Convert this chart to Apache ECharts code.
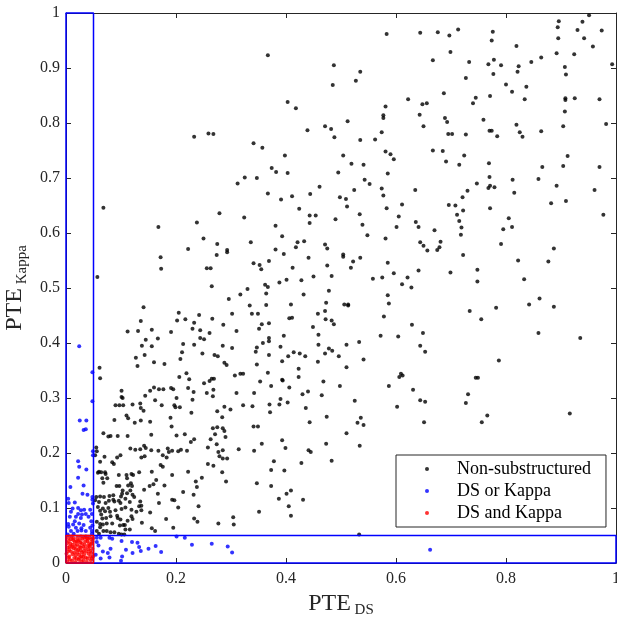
<!DOCTYPE html>
<html>
<head>
<meta charset="utf-8">
<script src="https://cdn.jsdelivr.net/npm/echarts@6/dist/echarts.min.js"></script>
<style>html,body{margin:0;padding:0;background:#fff}#chart{width:617px;height:619px}</style>
</head>
<body>
<div id="chart"></div>
<script>
var xTicks = [0, 0.2, 0.4, 0.6, 0.8, 1];
var yTicks = [0, 0.1, 0.2, 0.3, 0.4, 0.5, 0.6, 0.7, 0.8, 0.9, 1];
var cut = 0.05;
var legendNames = ['Non-substructured', 'DS or Kappa', 'DS and Kappa'];

var nonSubstructured = [
[0.233,0.775],[0.259,0.781],[0.268,0.780],[0.312,0.690],[0.325,0.701],
[0.367,0.923],[0.583,0.962],[0.644,0.964],[0.487,0.905],[0.535,0.893],[0.527,0.877],[0.485,0.869],[0.403,0.838],[0.418,0.827],[0.622,0.843],[0.581,0.830],[0.648,0.834],[0.656,0.836],[0.577,0.814],[0.577,0.809],[0.643,0.815],[0.512,0.803],[0.439,0.787],[0.471,0.794],[0.482,0.789],[0.650,0.794],[0.488,0.774],[0.535,0.769],[0.562,0.770],[0.574,0.783],[0.341,0.763],[0.357,0.755],[0.398,0.741],[0.504,0.741],[0.581,0.748],[0.590,0.743],[0.596,0.734],[0.519,0.726],[0.541,0.724],[0.374,0.718],[0.382,0.711],[0.403,0.709],[0.495,0.710],[0.585,0.708],[0.347,0.700],[0.543,0.697],[0.552,0.689],[0.461,0.684],[0.524,0.678],[0.574,0.681],[0.635,0.678],[0.367,0.672],[0.444,0.671],
[0.951,0.996],[0.896,0.985],[0.939,0.984],[0.894,0.974],[0.930,0.969],[0.974,0.968],[0.713,0.970],[0.676,0.965],[0.697,0.959],[0.776,0.966],[0.774,0.950],[0.895,0.954],[0.942,0.954],[0.819,0.940],[0.958,0.939],[0.699,0.929],[0.892,0.927],[0.924,0.925],[0.864,0.919],[0.846,0.911],[0.667,0.914],[0.733,0.911],[0.778,0.915],[0.768,0.907],[0.791,0.905],[0.823,0.903],[0.907,0.902],[0.993,0.907],[0.821,0.893],[0.777,0.889],[0.909,0.888],[0.727,0.882],[0.800,0.870],[0.837,0.866],[0.811,0.857],[0.687,0.854],[0.745,0.846],[0.771,0.849],[0.740,0.836],[0.834,0.843],[0.908,0.845],[0.908,0.842],[0.925,0.845],[0.970,0.843],[0.907,0.821],[0.689,0.809],[0.693,0.802],[0.759,0.806],[0.819,0.797],[0.982,0.798],[0.904,0.794],[0.695,0.780],[0.702,0.780],[0.727,0.779],[0.770,0.786],[0.774,0.786],[0.784,0.776],[0.825,0.783],[0.830,0.775],[0.864,0.785],[0.667,0.750],[0.685,0.749],[0.724,0.741],[0.691,0.730],[0.715,0.724],[0.769,0.727],[0.912,0.740],[0.866,0.720],[0.904,0.722],[0.970,0.720],[0.770,0.702],[0.812,0.697],[0.859,0.698],[0.747,0.690],[0.771,0.686],[0.768,0.682],[0.779,0.683],[0.730,0.677],[0.815,0.673],[0.892,0.686],[0.961,0.678],
[0.068,0.646],[0.168,0.611],[0.238,0.619],[0.279,0.636],[0.324,0.628],[0.250,0.590],[0.222,0.571],[0.275,0.580],[0.293,0.569],[0.293,0.565],[0.274,0.560],[0.172,0.556],[0.173,0.535],[0.256,0.536],[0.263,0.536],[0.057,0.520],[0.265,0.503],[0.330,0.498],[0.317,0.488],[0.296,0.480],[0.334,0.468],[0.141,0.465],[0.205,0.455],[0.242,0.451],[0.302,0.453],[0.136,0.440],[0.202,0.441],[0.217,0.443],[0.233,0.437],[0.266,0.444],[0.286,0.433],[0.112,0.421],[0.131,0.422],[0.156,0.424],[0.191,0.420],[0.230,0.426],[0.244,0.423],[0.261,0.418],[0.310,0.422],[0.145,0.406],[0.167,0.408],[0.244,0.409],[0.251,0.407],[0.138,0.395],[0.156,0.394],[0.213,0.398],[0.233,0.397],[0.285,0.395],[0.302,0.391],[0.211,0.383],[0.248,0.381],[0.270,0.378],[0.276,0.376],[0.127,0.373],[0.143,0.378],[0.208,0.371],[0.130,0.358],[0.160,0.365],[0.179,0.362],[0.288,0.364],[0.292,0.360],[0.061,0.355],[0.062,0.336],[0.206,0.338],[0.219,0.345],[0.224,0.334],[0.265,0.335],[0.269,0.335],[0.307,0.341],[0.317,0.344],[0.322,0.344],
[0.391,0.661],[0.411,0.667],[0.498,0.665],[0.509,0.662],[0.577,0.668],[0.511,0.648],[0.611,0.652],[0.424,0.644],[0.443,0.632],[0.454,0.632],[0.443,0.618],[0.490,0.625],[0.534,0.634],[0.583,0.645],[0.605,0.630],[0.539,0.615],[0.601,0.611],[0.636,0.620],[0.641,0.611],[0.381,0.613],[0.393,0.594],[0.548,0.596],[0.581,0.590],[0.336,0.583],[0.421,0.583],[0.433,0.585],[0.471,0.579],[0.475,0.572],[0.418,0.574],[0.381,0.570],[0.396,0.562],[0.644,0.583],[0.650,0.577],[0.657,0.568],[0.504,0.561],[0.504,0.557],[0.441,0.555],[0.535,0.555],[0.522,0.548],[0.585,0.546],[0.341,0.545],[0.352,0.542],[0.355,0.534],[0.369,0.549],[0.412,0.537],[0.475,0.541],[0.518,0.537],[0.641,0.532],[0.596,0.527],[0.450,0.521],[0.483,0.522],[0.558,0.517],[0.575,0.519],[0.621,0.519],[0.401,0.515],[0.428,0.514],[0.388,0.510],[0.611,0.507],[0.628,0.501],[0.362,0.506],[0.367,0.502],[0.364,0.490],[0.478,0.495],[0.432,0.488],[0.585,0.487],[0.587,0.472],[0.506,0.470],[0.513,0.470],[0.513,0.468],[0.473,0.473],[0.409,0.470],[0.364,0.469],[0.338,0.453],[0.349,0.453],[0.471,0.458],[0.458,0.453],[0.578,0.448],[0.406,0.445],[0.411,0.446],[0.472,0.443],[0.483,0.441],[0.487,0.434],[0.356,0.434],[0.369,0.436],[0.351,0.426],[0.449,0.429],[0.629,0.433],[0.459,0.415],[0.396,0.413],[0.572,0.413],[0.604,0.412],[0.649,0.418],[0.369,0.409],[0.369,0.403],[0.358,0.400],[0.533,0.402],[0.510,0.397],[0.459,0.397],[0.390,0.393],[0.347,0.392],[0.345,0.384],[0.478,0.390],[0.484,0.386],[0.471,0.381],[0.414,0.383],[0.425,0.381],[0.404,0.376],[0.435,0.376],[0.369,0.378],[0.644,0.395],[0.653,0.384],[0.496,0.376],[0.541,0.370],[0.393,0.367],[0.458,0.366],[0.347,0.361],[0.510,0.356],[0.367,0.346],[0.423,0.353],[0.423,0.338],[0.393,0.333],[0.609,0.344],[0.612,0.341],[0.606,0.338],
[0.721,0.665],[0.696,0.651],[0.708,0.650],[0.722,0.641],[0.771,0.645],[0.882,0.654],[0.909,0.658],[0.977,0.633],[0.711,0.633],[0.715,0.622],[0.719,0.610],[0.718,0.597],[0.805,0.627],[0.811,0.611],[0.795,0.607],[0.791,0.580],[0.670,0.605],[0.681,0.584],[0.679,0.574],[0.675,0.569],[0.722,0.560],[0.887,0.572],[0.822,0.550],[0.877,0.548],[0.699,0.528],[0.748,0.533],[0.748,0.512],[0.833,0.516],[0.861,0.481],[0.842,0.470],[0.887,0.466],[0.782,0.464],[0.734,0.458],[0.755,0.443],[0.859,0.418],[0.935,0.409],[0.787,0.368],[0.745,0.337],[0.749,0.337],
[0.251,0.327],[0.261,0.331],[0.101,0.313],[0.153,0.313],[0.160,0.319],[0.169,0.316],[0.177,0.316],[0.191,0.318],[0.195,0.316],[0.222,0.318],[0.232,0.311],[0.256,0.309],[0.268,0.315],[0.267,0.303],[0.310,0.309],[0.101,0.302],[0.103,0.300],[0.144,0.304],[0.162,0.296],[0.201,0.300],[0.230,0.297],[0.090,0.287],[0.097,0.287],[0.104,0.287],[0.121,0.288],[0.135,0.290],[0.174,0.287],[0.197,0.287],[0.199,0.283],[0.207,0.283],[0.228,0.273],[0.136,0.282],[0.141,0.277],[0.110,0.268],[0.113,0.263],[0.088,0.260],[0.125,0.255],[0.136,0.259],[0.153,0.257],[0.190,0.264],[0.192,0.248],[0.275,0.276],[0.288,0.284],[0.299,0.279],[0.322,0.287],[0.284,0.265],[0.267,0.245],[0.275,0.247],[0.285,0.245],[0.288,0.240],[0.271,0.234],[0.263,0.225],[0.274,0.216],[0.290,0.229],[0.068,0.236],[0.077,0.230],[0.081,0.231],[0.094,0.231],[0.112,0.231],[0.155,0.233],[0.201,0.232],[0.216,0.234],[0.233,0.225],[0.227,0.220],[0.258,0.210],[0.314,0.207],[0.055,0.210],[0.056,0.203],[0.053,0.196],[0.070,0.193],[0.099,0.196],[0.093,0.192],[0.117,0.208],[0.126,0.206],[0.135,0.207],[0.142,0.213],[0.145,0.209],[0.137,0.192],[0.143,0.194],[0.155,0.205],[0.168,0.204],[0.176,0.196],[0.185,0.208],[0.187,0.202],[0.183,0.192],[0.193,0.204],[0.204,0.203],[0.209,0.206],[0.220,0.204],[0.277,0.202],[0.279,0.194],[0.285,0.190],[0.293,0.190],[0.285,0.205],[0.087,0.180],[0.062,0.184],[0.084,0.183],[0.172,0.178],[0.176,0.175],[0.258,0.180],[0.268,0.177],[0.284,0.165],[0.058,0.164],[0.060,0.166],[0.064,0.165],[0.071,0.165],[0.072,0.162],[0.096,0.160],[0.110,0.160],[0.119,0.162],[0.122,0.160],[0.133,0.165],[0.156,0.166],[0.193,0.160],[0.222,0.166],[0.247,0.155],[0.066,0.154],[0.068,0.146],[0.075,0.154],[0.111,0.154],[0.118,0.145],[0.159,0.143],[0.164,0.151],[0.092,0.140],[0.097,0.140],[0.113,0.141],[0.120,0.140],[0.152,0.140],[0.179,0.141],[0.236,0.148],[0.238,0.138],[0.291,0.148],[0.103,0.132],[0.117,0.132],[0.142,0.133],[0.167,0.126],[0.213,0.129],[0.102,0.126],[0.111,0.127],[0.232,0.124],[0.055,0.120],[0.062,0.121],[0.069,0.120],[0.079,0.122],[0.086,0.123],[0.100,0.121],[0.108,0.117],[0.121,0.124],[0.124,0.120],[0.053,0.114],[0.060,0.111],[0.072,0.109],[0.078,0.113],[0.086,0.115],[0.088,0.112],[0.096,0.113],[0.099,0.109],[0.116,0.111],[0.135,0.112],[0.137,0.104],[0.133,0.103],[0.169,0.109],[0.193,0.115],[0.197,0.114],[0.241,0.103],[0.204,0.101],[0.058,0.102],[0.062,0.095],[0.067,0.099],[0.077,0.100],[0.071,0.094],[0.080,0.093],[0.090,0.096],[0.101,0.098],[0.108,0.101],[0.119,0.097],[0.128,0.093],[0.137,0.096],[0.153,0.092],[0.064,0.088],[0.066,0.081],[0.073,0.082],[0.081,0.085],[0.093,0.086],[0.094,0.082],[0.099,0.079],[0.119,0.085],[0.121,0.080],[0.112,0.077],[0.138,0.073],[0.182,0.080],[0.233,0.081],[0.239,0.075],[0.277,0.072],[0.304,0.083],[0.305,0.070],[0.056,0.075],[0.062,0.071],[0.067,0.070],[0.074,0.072],[0.084,0.072],[0.062,0.065],[0.098,0.068],[0.104,0.069],[0.107,0.069],[0.116,0.061],[0.108,0.061],[0.156,0.063],[0.162,0.058],[0.195,0.064],[0.056,0.058],[0.068,0.058],[0.074,0.058],[0.081,0.056],[0.088,0.056],[0.096,0.053],[0.101,0.052],[0.106,0.052],[0.060,0.053],
[0.353,0.330],[0.373,0.322],[0.394,0.332],[0.406,0.319],[0.468,0.330],[0.498,0.322],[0.342,0.309],[0.430,0.307],[0.440,0.312],[0.465,0.305],[0.390,0.298],[0.403,0.292],[0.388,0.288],[0.370,0.288],[0.339,0.285],[0.436,0.282],[0.371,0.274],[0.525,0.295],[0.587,0.322],[0.631,0.315],[0.644,0.296],[0.653,0.293],[0.602,0.284],[0.474,0.266],[0.536,0.264],[0.530,0.255],[0.541,0.251],[0.443,0.256],[0.341,0.248],[0.349,0.248],[0.651,0.256],[0.510,0.236],[0.393,0.223],[0.356,0.217],[0.342,0.204],[0.399,0.209],[0.473,0.217],[0.534,0.213],[0.441,0.205],[0.445,0.202],[0.378,0.185],[0.428,0.182],[0.483,0.186],[0.373,0.169],[0.397,0.168],[0.347,0.145],[0.373,0.140],[0.409,0.132],[0.401,0.126],[0.387,0.117],[0.431,0.115],[0.405,0.103],[0.351,0.093],[0.409,0.086],[0.533,0.052],
[0.731,0.307],[0.727,0.291],[0.766,0.268],[0.756,0.256],[0.916,0.272]
];

var dsOrKappa = [
[0.024,0.394],[0.048,0.347],[0.048,0.294],[0.025,0.259],[0.037,0.259],[0.032,0.242],[0.036,0.243],[0.049,0.203],[0.049,0.196],[0.022,0.185],[0.024,0.175],[0.037,0.170],[0.022,0.155],[0.032,0.141],[0.008,0.138],[0.030,0.126],[0.039,0.124],[0.048,0.120],[0.004,0.117],[0.005,0.109],[0.016,0.110],[0.048,0.115],[0.049,0.108],[0.012,0.099],[0.022,0.100],[0.027,0.096],[0.033,0.097],[0.044,0.097],[0.009,0.093],[0.022,0.089],[0.029,0.088],[0.036,0.089],[0.047,0.089],[0.007,0.084],[0.018,0.084],[0.027,0.082],[0.041,0.084],[0.016,0.076],[0.046,0.076],[0.004,0.071],[0.013,0.070],[0.024,0.072],[0.032,0.069],[0.048,0.068],[0.005,0.066],[0.018,0.064],[0.028,0.063],[0.044,0.064],[0.009,0.058],[0.021,0.058],[0.028,0.059],[0.036,0.058],[0.047,0.058],[0.003,0.052],[0.014,0.053],[0.047,0.053],
[0.056,0.046],[0.063,0.046],[0.079,0.046],[0.084,0.044],[0.101,0.040],[0.056,0.038],[0.059,0.032],[0.067,0.021],[0.081,0.026],[0.076,0.018],[0.054,0.015],[0.063,0.008],[0.079,0.010],[0.102,0.012],[0.100,0.004],[0.109,0.024],[0.120,0.038],[0.130,0.037],[0.133,0.029],[0.136,0.022],[0.121,0.018],[0.150,0.026],[0.163,0.031],[0.173,0.020],[0.201,0.048],[0.216,0.046],[0.229,0.033],[0.265,0.035],[0.294,0.030],[0.302,0.019],[0.662,0.024]
];

var dsAndKappa = [
[0.002,0.003],[0.006,0.012],[0.011,0.004],[0.015,0.019],[0.019,0.008],[0.024,0.015],[0.028,0.003],[0.032,0.022],[0.036,0.010],[0.041,0.017],[0.045,0.005],[0.048,0.026],[0.003,0.028],[0.008,0.035],[0.013,0.042],[0.017,0.031],[0.021,0.046],[0.026,0.037],[0.030,0.044],[0.034,0.033],[0.039,0.040],[0.043,0.047],[0.047,0.036],[0.004,0.046],[0.009,0.021],[0.014,0.027],[0.018,0.014],[0.022,0.024],[0.027,0.028],[0.031,0.011],[0.035,0.027],[0.040,0.031],[0.044,0.022],[0.049,0.012],[0.001,0.017],[0.005,0.040],[0.010,0.048],[0.016,0.038],[0.020,0.034],[0.025,0.042],[0.029,0.019],[0.033,0.046],[0.038,0.002],[0.042,0.036],[0.046,0.043],[0.007,0.006],[0.012,0.016],[0.023,0.006],[0.037,0.021],[0.044,0.012],[0.002,0.036],[0.015,0.009],[0.027,0.048],[0.035,0.039],[0.049,0.045],[0.006,0.024],[0.019,0.040],[0.031,0.030],[0.041,0.025],[0.012,0.033],[0.024,0.030],[0.038,0.045],[0.046,0.018],[0.009,0.043],[0.017,0.002],[0.028,0.012],[0.033,0.016],[0.043,0.030],[0.004,0.010],[0.021,0.019],[0.026,0.023],[0.039,0.008],[0.048,0.039],[0.011,0.029],[0.029,0.036],[0.036,0.048],[0.014,0.045],[0.022,0.040],[0.045,0.033],[0.003,0.021],[0.032,0.005],[0.040,0.044],[0.018,0.025],[0.007,0.030],[0.025,0.009],[0.047,0.008]
];

var dsRect = [[0,0],[cut,0],[cut,1],[0,1],[0,0]];
var kappaRect = [[0,0],[1,0],[1,cut],[0,cut],[0,0]];
var bothRect = [[0,0],[cut,0],[cut,cut],[0,cut],[0,0]];

var SERIF = 'Liberation Serif, Times New Roman, serif';
var AX = '#262626';

function rectSeries(data, color) {
  return {
    type: 'line', data: data, showSymbol: false, symbol: 'none', clip: false, silent: true,
    lineStyle: { color: color, width: 1.5 }, z: 5, animation: false
  };
}
function scatter(name, data, color, z) {
  return {
    name: name, type: 'scatter', data: data, symbol: 'circle', symbolSize: 4,
    itemStyle: { color: color }, z: z, animation: false
  };
}
function xAx(pos, show) {
  return {
    type: 'value', position: pos, min: xTicks[0], max: xTicks[xTicks.length - 1],
    interval: xTicks[1] - xTicks[0],
    axisLine: { show: true, onZero: false, lineStyle: { color: AX, width: 1 } },
    axisTick: { show: true, inside: true, length: 5, lineStyle: { color: AX } },
    axisLabel: { show: show, margin: 8, color: AX, fontFamily: SERIF, fontSize: 16 },
    splitLine: { show: false }
  };
}
function yAx(pos, show) {
  return {
    type: 'value', position: pos, min: yTicks[0], max: yTicks[yTicks.length - 1],
    interval: yTicks[1] - yTicks[0],
    axisLine: { show: true, onZero: false, lineStyle: { color: AX, width: 1 } },
    axisTick: { show: true, inside: true, length: 5, lineStyle: { color: AX } },
    axisLabel: { show: show, margin: 6, color: AX, fontFamily: SERIF, fontSize: 16 },
    splitLine: { show: false }
  };
}

var chart = echarts.init(document.getElementById('chart'));
var richName = {
  a: { fontFamily: SERIF, fontSize: 24, color: AX, verticalAlign: 'bottom', padding: [0, 0, 2, 0] },
  b: { fontFamily: SERIF, fontSize: 15, color: AX, verticalAlign: 'bottom' }
};
var xMain = xAx('bottom', true);
xMain.name = '{a|PTE}{b| DS}';
xMain.nameLocation = 'middle';
xMain.nameGap = 28;
xMain.nameTextStyle = { rich: richName };
var yMain = yAx('left', true);
yMain.name = '{a|PTE}{b| Kappa}';
yMain.nameLocation = 'middle';
yMain.nameGap = 31;
yMain.nameRotate = 90;
yMain.nameTextStyle = { rich: richName };

chart.setOption({
  animation: false,
  backgroundColor: '#fff',
  grid: { left: 66, right: 1, top: 13, bottom: 56, containLabel: false, outerBoundsMode: 'none' },
  xAxis: [xMain, xAx('top', false)],
  yAxis: [yMain, yAx('right', false)],
  legend: {
    data: legendNames.map(function (n) { return { name: n, icon: 'circle' }; }),
    orient: 'vertical', left: 396, top: 455,
    padding: [5, 15, 5, 29], itemGap: 4, itemWidth: 50, itemHeight: 4,
    textStyle: { fontFamily: SERIF, fontSize: 18, color: '#000' },
    borderColor: AX, borderWidth: 1, backgroundColor: '#fff', z: 20,
    selectedMode: false
  },
  series: [
    scatter(legendNames[0], nonSubstructured, '#000000', 2),
    scatter(legendNames[1], dsOrKappa, '#0000ff', 3),
    scatter(legendNames[2], dsAndKappa, '#ff0000', 4),
    rectSeries(dsRect, '#0000ff'),
    rectSeries(kappaRect, '#0000ff'),
    rectSeries(bothRect, '#ff0000')
  ]
});
</script>
</body>
</html>
